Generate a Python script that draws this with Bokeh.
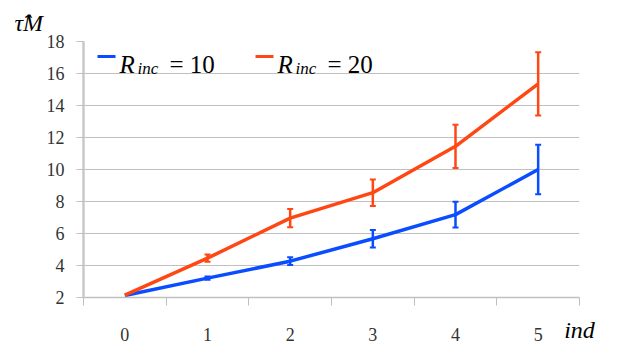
from bokeh.plotting import figure
from bokeh.models import ColumnDataSource, Whisker, TeeHead, FixedTicker, Label, Range1d
from bokeh.embed import file_html
from bokeh.resources import INLINE

# ---- data ----
ind = [0, 1, 2, 3, 4, 5]
r10 = [2.12, 3.21, 4.27, 5.67, 7.18, 10.0]
r10_err = [0.0, 0.1, 0.24, 0.55, 0.8, 1.55]
r20 = [2.15, 4.46, 6.96, 8.55, 11.45, 15.35]
r20_err = [0.0, 0.22, 0.57, 0.83, 1.35, 1.98]
y_ticks = [2, 4, 6, 8, 10, 12, 14, 16, 18]
series_labels = [("R", "inc", "= 10"), ("R", "inc", "= 20")]

BLUE = "#0a4cff"
RED = "#ff4714"
SERIF = "serif"

X0, X1, Y0, Y1 = -0.5, 5.5, 2, 18
FL, FR, FT, FB = 83, 579, 41, 297  # frame pixel box
W, H = 611, 346

p = figure(width=W, height=H, output_backend="svg", toolbar_location=None,
           x_range=Range1d(X0, X1), y_range=Range1d(Y0, Y1),
           min_border_left=FL, min_border_right=W - FR, min_border_top=FT, min_border_bottom=H - FB)
p.outline_line_color = None


def dx(px):
    return X0 + (px - FL) * (X1 - X0) / (FR - FL)


def dy(py):
    return Y0 + (FB - py) * (Y1 - Y0) / (FB - FT)


# axes
xa = p.xaxis[0]
xa.ticker = FixedTicker(ticks=ind, minor_ticks=[i - 0.5 for i in ind] + [ind[-1] + 0.5])
xa.major_tick_out = 0
xa.major_tick_in = 0
xa.minor_tick_out = 8
xa.minor_tick_in = 0
xa.minor_tick_line_color = "#c0c0c0"
xa.axis_line_color = "#c0c0c0"
xa.axis_line_width = 1.5
xa.major_label_standoff = 22
xa.major_label_text_font = SERIF
xa.major_label_text_font_size = "18px"
xa.major_label_text_color = "#333333"
xa.axis_label = "ind"
xa.axis_label_text_font = SERIF
xa.axis_label_text_font_style = "italic"
xa.axis_label_text_font_size = "24px"
xa.axis_label_text_color = "black"
xa.axis_label_standoff = -27
xa.axis_label_align = "end"

ya = p.yaxis[0]
ya.ticker = FixedTicker(ticks=y_ticks, minor_ticks=[])
ya.major_tick_out = 7
ya.major_tick_in = 0
ya.major_tick_line_color = "#c0c0c0"
ya.axis_line_color = "#c8c8c8"
ya.axis_line_width = 2.5
ya.major_label_standoff = 12
ya.major_label_text_font = SERIF
ya.major_label_text_font_size = "18px"
ya.major_label_text_color = "#333333"

p.xgrid.grid_line_color = None
p.ygrid.ticker = FixedTicker(ticks=y_ticks)
p.ygrid.grid_line_color = "#c0c0c0"
p.ygrid.grid_line_width = 1.2

# y-axis title as the figure title, moved to the top-left corner
p.title.text = "τ̂M"
p.title.align = "left"
p.title.offset = 14 - FL
p.title.standoff = 12
p.title.text_font = SERIF
p.title.text_font_style = "italic"
p.title.text_font_size = "24px"
p.title.text_color = "black"

# series
for vals, errs, col in [(r10, r10_err, BLUE), (r20, r20_err, RED)]:
    p.line(ind, vals, line_color=col, line_width=3.5, line_join="round")
    xs = [x for x, e in zip(ind, errs) if e > 0]
    up = [v + e for v, e in zip(vals, errs) if e > 0]
    lo = [v - e for v, e in zip(vals, errs) if e > 0]
    src = ColumnDataSource(dict(x=xs, upper=up, lower=lo))
    w = Whisker(source=src, base="x", upper="upper", lower="lower",
                line_color=col, line_width=2.5,
                upper_head=TeeHead(size=6, line_color=col, line_width=2),
                lower_head=TeeHead(size=6, line_color=col, line_width=2))
    p.add_layout(w)

# custom legend (inside frame)
leg_px = [97, 255]
for (base, sub, rest), col, lx in zip(series_labels, [BLUE, RED], leg_px):
    p.segment(x0=[dx(lx)], y0=[dy(56)], x1=[dx(lx + 18)], y1=[dy(56)],
              line_color=col, line_width=3)
    p.add_layout(Label(x=dx(lx + 22), y=dy(64), text=base, text_baseline="alphabetic",
                       text_font=SERIF, text_font_style="italic", text_font_size="25px",
                       text_color="black"))
    p.add_layout(Label(x=dx(lx + 40), y=dy(68), text=sub, text_baseline="alphabetic",
                       text_font=SERIF, text_font_style="italic", text_font_size="17px",
                       text_color="black"))
    p.add_layout(Label(x=dx(lx + 72), y=dy(64), text=rest, text_baseline="alphabetic",
                       text_font=SERIF, text_font_size="25px", text_color="black"))

open("out.html", "w").write(file_html(p, INLINE))
